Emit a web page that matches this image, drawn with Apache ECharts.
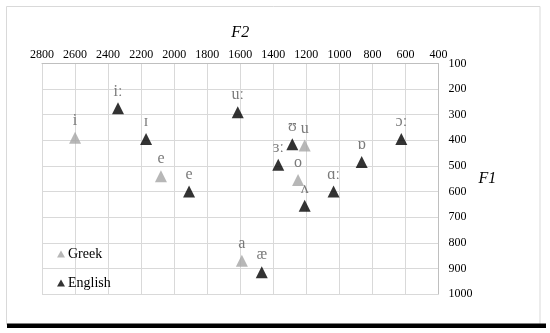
<!DOCTYPE html>
<html>
<head>
<meta charset="utf-8">
<script src="https://cdn.jsdelivr.net/npm/echarts@6/dist/echarts.min.js"></script>
<style>
html,body{margin:0;padding:0;background:#fff;}
#chart{width:550px;height:333px;}
</style>
</head>
<body>
<div id="chart"></div>
<script>
// Data (F2 in Hz on x, F1 in Hz on y)
const greekLabels = ['i', 'e', 'u', 'o', 'a'];
const greekF2 = [2600, 2080, 1210, 1250, 1590];
const greekF1 = [390, 540, 420, 555, 870];

const englishLabels = ['iː', 'ɪ', 'e', 'uː', 'ʊ', 'ɜː', 'ʌ', 'ɑː', 'ɒ', 'ɔː', 'æ'];
const englishF2 = [2340, 2170, 1910, 1615, 1285, 1370, 1210, 1035, 865, 625, 1470];
const englishF1 = [275, 395, 600, 290, 415, 495, 655, 600, 485, 395, 915];

const seriesNames = ['Greek', 'English'];
const xTitle = 'F2';
const yTitle = 'F1';

const serif = '"Liberation Serif", "DejaVu Serif", "Times New Roman", serif';

function pts(labels, xs, ys) {
  return labels.map((l, i) => ({ name: l, value: [xs[i], ys[i]] }));
}

const labelStyle = {
  show: true,
  position: 'top',
  distance: 3,
  formatter: p => p.name,
  color: '#595959',
  fontFamily: serif,
  fontSize: 16
};

const chart = echarts.init(document.getElementById('chart'), null, { renderer: 'canvas' });
chart.setOption({
  animation: false,
  backgroundColor: '#fff',
  graphic: [
    { type: 'rect', shape: { x: 6.5, y: 6.5, width: 533.5, height: 318 }, style: { fill: 'none', stroke: '#D9D9D9', lineWidth: 1 }, z: -1 },
    { type: 'rect', shape: { x: 7, y: 323.5, width: 539, height: 4.5 }, style: { fill: '#000' }, z: 10 }
  ],
  grid: { left: 42, right: 111.5, top: 63.5, bottom: 39, containLabel: false },
  legend: {
    orient: 'vertical',
    left: 52,
    top: 242,
    itemWidth: 8,
    itemHeight: 7,
    itemGap: 15,
    icon: 'triangle',
    data: seriesNames,
    textStyle: { fontFamily: serif, fontSize: 14, color: '#000', padding: [0, 0, 0, -2] }
  },
  xAxis: {
    type: 'value',
    position: 'top',
    inverse: true,
    min: 400, max: 2800, interval: 200,
    name: xTitle,
    nameLocation: 'middle',
    nameGap: 23,
    nameTextStyle: { fontFamily: serif, fontStyle: 'italic', fontSize: 16, color: '#000' },
    axisLine: { show: true, lineStyle: { color: '#BFBFBF' } },
    axisTick: { show: false },
    axisLabel: { fontFamily: serif, fontSize: 12, color: '#000', margin: 3, formatter: v => String(v) },
    splitLine: { show: true, lineStyle: { color: '#D9D9D9' } }
  },
  yAxis: {
    type: 'value',
    position: 'right',
    inverse: true,
    min: 100, max: 1000, interval: 100,
    name: yTitle,
    nameLocation: 'middle',
    nameGap: 35,
    nameRotate: 0,
    nameTextStyle: { fontFamily: serif, fontStyle: 'italic', fontSize: 16, color: '#000' },
    axisLine: { show: true, lineStyle: { color: '#BFBFBF' } },
    axisTick: { show: false },
    axisLabel: { fontFamily: serif, fontSize: 12, color: '#000', margin: 10, formatter: v => String(v) },
    splitLine: { show: true, lineStyle: { color: '#D9D9D9' } }
  },
  series: [
    {
      name: seriesNames[0], type: 'scatter', symbol: 'triangle', symbolSize: [12, 12],
      itemStyle: { color: '#A5A5A5' },
      label: labelStyle,
      data: pts(greekLabels, greekF2, greekF1)
    },
    {
      name: seriesNames[1], type: 'scatter', symbol: 'triangle', symbolSize: [12, 12],
      itemStyle: { color: '#000' },
      label: labelStyle,
      data: pts(englishLabels, englishF2, englishF1)
    }
  ]
});
</script>
</body>
</html>
